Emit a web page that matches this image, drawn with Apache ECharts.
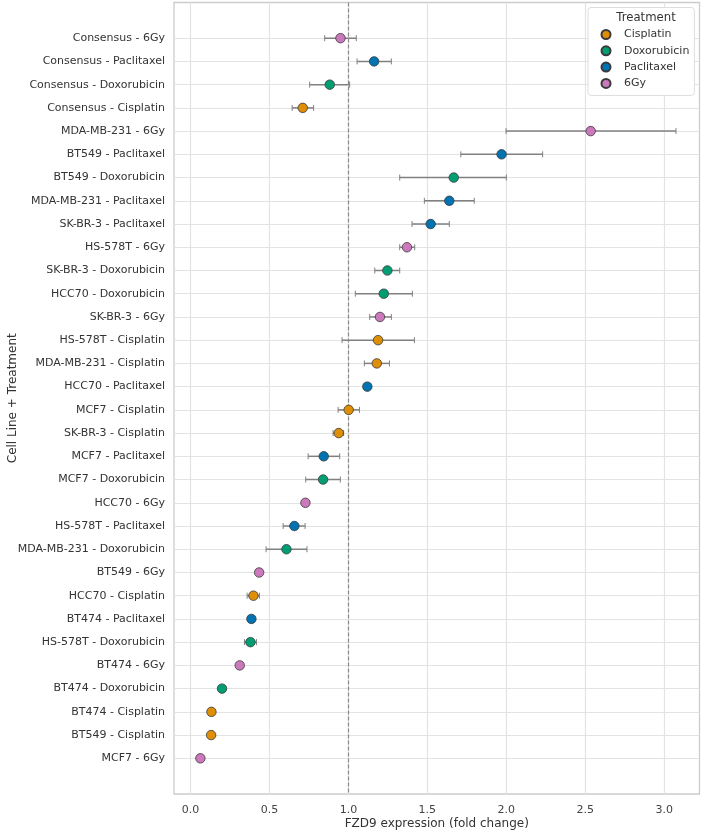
<!DOCTYPE html>
<html><head><meta charset="utf-8">
<script src="https://cdn.jsdelivr.net/npm/echarts@6/dist/echarts.min.js"></script>
<style>html,body{margin:0;padding:0;background:#fff}#c{width:702px;height:833px}</style>
</head><body><div id="c"></div>
<script>
// Categories, top to bottom
const categories = [
  'Consensus - 6Gy','Consensus - Paclitaxel','Consensus - Doxorubicin','Consensus - Cisplatin',
  'MDA-MB-231 - 6Gy','BT549 - Paclitaxel','BT549 - Doxorubicin','MDA-MB-231 - Paclitaxel',
  'SK-BR-3 - Paclitaxel','HS-578T - 6Gy','SK-BR-3 - Doxorubicin','HCC70 - Doxorubicin',
  'SK-BR-3 - 6Gy','HS-578T - Cisplatin','MDA-MB-231 - Cisplatin','HCC70 - Paclitaxel',
  'MCF7 - Cisplatin','SK-BR-3 - Cisplatin','MCF7 - Paclitaxel','MCF7 - Doxorubicin',
  'HCC70 - 6Gy','HS-578T - Paclitaxel','MDA-MB-231 - Doxorubicin','BT549 - 6Gy',
  'HCC70 - Cisplatin','BT474 - Paclitaxel','HS-578T - Doxorubicin','BT474 - 6Gy',
  'BT474 - Doxorubicin','BT474 - Cisplatin','BT549 - Cisplatin','MCF7 - 6Gy'
];
const treatment = [
  '6Gy','Paclitaxel','Doxorubicin','Cisplatin',
  '6Gy','Paclitaxel','Doxorubicin','Paclitaxel',
  'Paclitaxel','6Gy','Doxorubicin','Doxorubicin',
  '6Gy','Cisplatin','Cisplatin','Paclitaxel',
  'Cisplatin','Cisplatin','Paclitaxel','Doxorubicin',
  '6Gy','Paclitaxel','Doxorubicin','6Gy',
  'Cisplatin','Paclitaxel','Doxorubicin','6Gy',
  'Doxorubicin','Cisplatin','Cisplatin','6Gy'
];
const meanValues = [
  0.95,1.163,0.882,0.711,
  2.534,1.97,1.667,1.639,
  1.521,1.371,1.247,1.224,
  1.20,1.188,1.18,1.12,
  1.002,0.939,0.844,0.84,
  0.728,0.658,0.608,0.435,
  0.399,0.386,0.38,0.312,
  0.20,0.133,0.131,0.063
];
const lowValues = [
  0.85,1.055,0.755,0.644,
  1.998,1.712,1.325,1.481,
  1.403,1.325,1.167,1.044,
  1.135,0.96,1.101,1.10,
  0.935,0.903,0.745,0.73,
  0.728,0.587,0.479,0.435,
  0.359,0.386,0.342,0.312,
  0.20,0.133,0.131,0.063
];
const highValues = [
  1.05,1.272,1.008,0.78,
  3.074,2.23,2.0,1.797,
  1.639,1.42,1.325,1.405,
  1.272,1.418,1.26,1.135,
  1.07,0.97,0.945,0.949,
  0.728,0.726,0.738,0.435,
  0.437,0.386,0.418,0.312,
  0.20,0.133,0.131,0.063
];
const treatments = ['Cisplatin','Doxorubicin','Paclitaxel','6Gy'];
const treatmentColors = ['#DE8F05','#029E73','#0173B2','#CC78BC'];
const xTicks = [0,0.5,1,1.5,2,2.5,3];
const referenceLine = 1.0;

const yIdx = categories.map((_, i) => i);
const chart = echarts.init(document.getElementById('c'), null, {renderer:'canvas'});

const errData = categories.map((c, i) => [lowValues[i], highValues[i], i]);

const series = [{
  type: 'custom',
  name: 'err',
  silent: true,
  z: 2,
  data: errData,
  encode: {x: [0, 1], y: 2},
  renderItem: function (params, api) {
    const lo = api.coord([api.value(0), api.value(2)]);
    const hi = api.coord([api.value(1), api.value(2)]);
    if (Math.abs(hi[0] - lo[0]) < 0.5) return null;
    const cap = 3;
    const st = {stroke: '#808080', lineWidth: 1.5};
    return {type: 'group', children: [
      {type: 'line', shape: {x1: lo[0], y1: lo[1], x2: hi[0], y2: hi[1]}, style: st},
      {type: 'line', shape: {x1: lo[0], y1: lo[1] - cap, x2: lo[0], y2: lo[1] + cap}, style: {stroke:'#808080', lineWidth:1}},
      {type: 'line', shape: {x1: hi[0], y1: hi[1] - cap, x2: hi[0], y2: hi[1] + cap}, style: {stroke:'#808080', lineWidth:1}}
    ]};
  },
  markLine: {
    silent: true, symbol: 'none', label: {show: false},
    lineStyle: {color: '#8a8a8a', type: [4, 2], width: 1.2},
    data: [{xAxis: referenceLine}]
  }
}];
treatments.forEach((t, k) => {
  series.push({
    type: 'scatter',
    name: t,
    z: 5,
    symbol: 'circle',
    symbolSize: 9.5,
    itemStyle: {color: treatmentColors[k], borderColor: '#3a3a3a', borderWidth: 0.8, opacity: 1},
    data: categories.map((c, i) => treatment[i] === t ? [meanValues[i], i] : null).filter(d => d)
  });
});

chart.setOption({
  animation: false,
  backgroundColor: '#fff',
  textStyle: {fontFamily: 'DejaVu Sans'},
  grid: {left: 174, right: 2.5, top: 2.5, bottom: 39, outerBoundsMode: 'none', containLabel: false,
    show: true, borderColor: '#cccccc', borderWidth: 1.3, backgroundColor: 'transparent'},
  title: {
    text: 'Treatment', left: 641, top: 6.5, textAlign: 'center', z: 10,
    textStyle: {fontSize: 11.7, fontWeight: 'normal', color: '#333', fontFamily: 'DejaVu Sans'}
  },
  legend: {
    data: treatments,
    orient: 'vertical',
    left: 588, top: 7.5,
    padding: [20, 5, 5, 12.5],
    itemWidth: 18, itemHeight: 9, itemGap: 2.3,
    icon: 'circle',
    backgroundColor: '#fff', borderColor: '#dddddd', borderWidth: 1, borderRadius: 3,
    textStyle: {fontSize: 11, color: '#333', lineHeight: 14, fontFamily: 'DejaVu Sans', padding: [0, 0, 0, 4]},
    z: 5
  },
  xAxis: {
    type: 'value', min: -0.104, max: 3.223,
    name: 'FZD9 expression (fold change)', nameLocation: 'middle', nameGap: 24, nameMoveOverlap: false,
    nameTextStyle: {fontSize: 12, color: '#333'},
    axisLine: {show: false},
    axisTick: {show: false, customValues: xTicks},
    axisLabel: {customValues: xTicks, fontSize: 11, color: '#444', margin: 11, formatter: v => v.toFixed(1)},
    splitLine: {show: true, lineStyle: {color: '#e3e3e3', width: 1.2}}
  },
  yAxis: {
    type: 'value', inverse: true, min: -1.536, max: 32.536,
    name: 'Cell Line + Treatment', nameLocation: 'middle', nameGap: 155, nameRotate: 90, nameMoveOverlap: false,
    nameTextStyle: {fontSize: 12, color: '#333'},
    axisLine: {show: false},
    axisTick: {show: false, customValues: yIdx},
    axisLabel: {customValues: yIdx, fontSize: 11, color: '#333', margin: 9, formatter: v => categories[Math.round(v)] || ''},
    splitLine: {show: true, lineStyle: {color: '#e3e3e3', width: 1.2}}
  },
  series: series
});
</script></body></html>
